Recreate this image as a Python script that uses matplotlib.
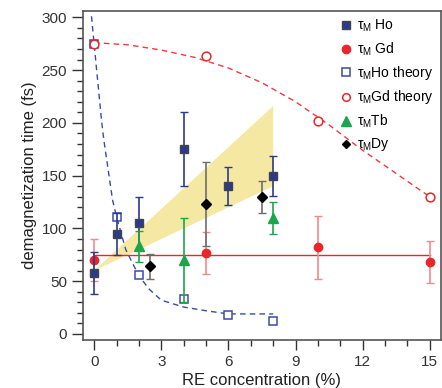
import matplotlib
matplotlib.use("Agg")
import matplotlib.pyplot as plt
from matplotlib.lines import Line2D
from matplotlib.ticker import MultipleLocator

plt.rcParams['font.family'] = ['Liberation Sans', 'DejaVu Sans']
plt.rcParams['mathtext.fontset'] = 'custom'
plt.rcParams['mathtext.rm'] = 'Liberation Sans'
plt.rcParams['mathtext.it'] = 'Liberation Sans'

# measured points
ho_x = [0, 1, 2, 4, 6, 8]
ho_y = [58, 95, 105, 175, 140, 150]
ho_err = [20, 20, 25, 35, 18, 19]

gd_x = [0, 5, 10, 15]
gd_y = [70, 77, 82, 68]
gd_err = [20, 20, 30, 20]
gd_mean = 75

tb_x = [2, 4, 8]
tb_y = [83, 70, 110]
tb_err = [15, 40, 15]

dy_x = [2.5, 5, 7.5]
dy_y = [64, 123, 130]
dy_err = [12, 40, 15]

# theory points
ho_th_x = [0, 1, 2, 4, 6, 8]
ho_th_y = [275, 111, 56, 33, 18, 12]
gd_th_x = [0, 5, 10, 15]
gd_th_y = [275, 263, 202, 130]

# dashed guide curves
ho_curve_x = [-0.12, 0, 0.33, 0.43, 0.82, 1.0, 1.41, 2, 2.48, 3, 4, 5, 6, 8]
ho_curve_y = [301, 274, 202, 184, 127, 111, 80, 55, 42, 32, 25.5, 22, 19, 19]
gd_curve_x = [0, 1.5, 3, 4.5, 6, 7.5, 9, 10.5, 12, 13.5, 15]
gd_curve_y = [276, 274, 269, 262, 252, 238, 220, 198, 174, 152, 130]

# yellow band
band_x = [0, 8, 8]
band_y = [60, 216, 140]

navy = "#2b3a8f"
red = "#e8262b"
green = "#1aa64a"

fig = plt.figure(figsize=(4.42, 3.88), dpi=100)
ax = fig.add_axes([83/442, 48/388, 358/442, 329/388])

ax.fill(band_x, band_y, color="#f5e8a3", lw=0, zorder=1)

ax.plot(ho_curve_x, ho_curve_y, ls=(0, (4, 3)), color="#3a4aa8", lw=1, zorder=2)
ax.plot(gd_curve_x, gd_curve_y, ls=(0, (4, 3)), color="#ee3a3f", lw=1, zorder=2)
ax.plot([0, 15], [gd_mean, gd_mean], color=red, lw=1, zorder=2)

ax.plot(ho_th_x, ho_th_y, 's', mfc="white", mec="#3a4aa8", mew=1.1, ms=6, zorder=3)
ax.plot(gd_th_x, gd_th_y, 'o', mfc="white", mec=red, mew=1.1, ms=6.3, zorder=3)

ax.errorbar(gd_x, gd_y, yerr=gd_err, fmt='o', color=red, ecolor="#f08a8d",
            ms=6, capsize=3, elinewidth=1.2, zorder=4)
ax.errorbar(ho_x, ho_y, yerr=ho_err, fmt='s', mfc=navy, mec="#444444", ecolor=navy,
            ms=6, capsize=3, elinewidth=1.2, zorder=5)
ax.errorbar(tb_x, tb_y, yerr=tb_err, fmt='^', color=green, ecolor=green,
            ms=6.5, capsize=3, elinewidth=1.2, zorder=5)
ax.errorbar(dy_x, dy_y, yerr=dy_err, fmt='D', mfc="black", mec="black", ecolor="#6e6e6e",
            ms=5, capsize=3, elinewidth=1.2, zorder=5)

ax.set_xlim(-0.5, 15.5)
ax.set_ylim(-5.7, 306)
ax.xaxis.set_major_locator(MultipleLocator(3))
ax.xaxis.set_minor_locator(MultipleLocator(1))
ax.yaxis.set_major_locator(MultipleLocator(50))
ax.yaxis.set_minor_locator(MultipleLocator(10))
ax.tick_params(which="both", direction="out", colors="#333333", labelsize=11, top=False, right=False)
ax.tick_params(which="major", length=7, width=1)
ax.tick_params(which="minor", length=4, width=1)
ax.tick_params(axis="y", which="major", length=8)
for s in ax.spines.values():
    s.set_color("#555555")
    s.set_linewidth(1.2)

ax.set_xlabel("RE concentration (%)", fontsize=12, color="#222222", labelpad=3)
ax.set_ylabel("demagnetization time (fs)", fontsize=12, color="#222222", labelpad=3)

handles = [
    Line2D([], [], ls='', marker='s', mfc=navy, mec="#444444", ms=6),
    Line2D([], [], ls='', marker='o', color=red, ms=6),
    Line2D([], [], ls='', marker='s', mfc="white", mec="#3a4aa8", mew=1.1, ms=5.5),
    Line2D([], [], ls='', marker='o', mfc="white", mec=red, mew=1.1, ms=5.5),
    Line2D([], [], ls='', marker='^', color=green, ms=6.5),
    Line2D([], [], ls='', marker='D', color="black", ms=4.5),
]
labels = [r"$\tau_M$ Ho", r"$\tau_M$ Gd", r"$\tau_M$Ho theory",
          r"$\tau_M$Gd theory", r"$\tau_M$Tb", r"$\tau_M$Dy"]
ax.legend(handles, labels, loc="upper right", frameon=False, fontsize=10,
          handletextpad=0.3, labelspacing=0.45, borderaxespad=0.1,
          handlelength=1.0)

fig.savefig("out.png", dpi=100)
